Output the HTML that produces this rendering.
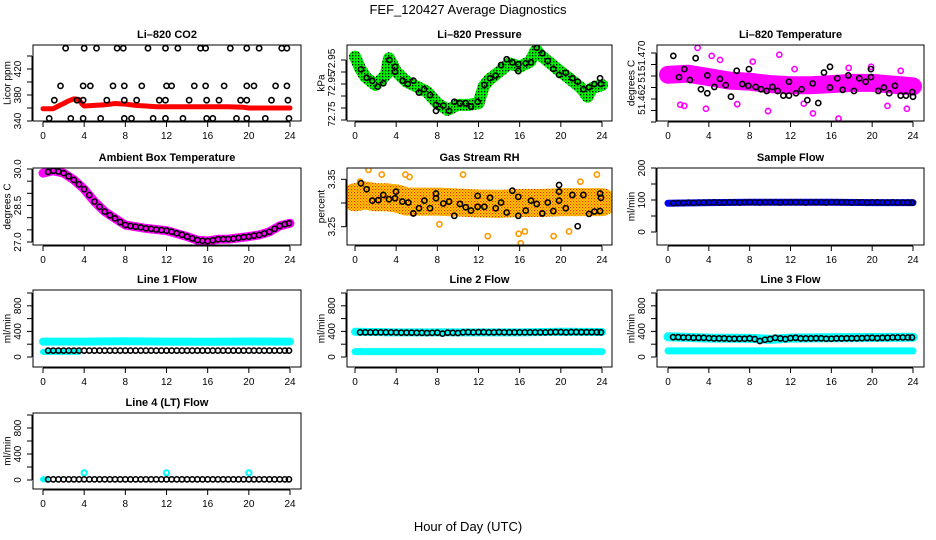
<!DOCTYPE html>
<html><head><meta charset="utf-8"><style>
html,body{margin:0;padding:0;background:#fff;}
svg{display:block;font-family:"Liberation Sans",Arial,sans-serif;}
</style></head><body>
<svg id="fig" width="936" height="540" viewBox="0 0 936 540" xmlns="http://www.w3.org/2000/svg">
<defs>
<pattern id="greenDots" width="3" height="3" patternUnits="userSpaceOnUse"><rect width="3" height="3" fill="#00ee00"/><rect x="1" y="1" width="1.3" height="1.3" fill="#000"/></pattern>
<pattern id="rhDots" width="3" height="3" patternUnits="userSpaceOnUse"><rect width="3" height="3" fill="#ffd400"/><rect x="0" y="0" width="1.2" height="1.2" fill="#ff2000"/><rect x="1.5" y="1.5" width="1.2" height="1.2" fill="#ff5000"/></pattern>
</defs>
<text x="468" y="14" text-anchor="middle" font-size="13">FEF_120427  Average Diagnostics</text>
<text x="468" y="531" text-anchor="middle" font-size="13">Hour of Day (UTC)</text>
</svg>
<script>
// ---------- data ----------
const xTicks = [0,4,8,12,16,20,24];
const halfHours = [0.5,1,1.5,2,2.5,3,3.5,4,4.5,5,5.5,6,6.5,7,7.5,8,8.5,9,9.5,10,10.5,11,11.5,12,12.5,13,13.5,14,14.5,15,15.5,16,16.5,17,17.5,18,18.5,19,19.5,20,20.5,21,21.5,22,22.5,23,23.5,23.9];

// CO2
const co2RedHours = [0,0.5,1,1.5,2,2.5,3,3.5,3.8,4,5,6,7,8,9,10,11,12,14,16,18,19.5,20,22,24];
const co2RedVals  = [359,359,359,363,367,371,374,373,366,363,364,365,367,366,364,363,362,362,362,362,362,361,360,360,360];
const co2BlackHours = [2.2,4.0,5.2,7.2,7.8,10.2,11.9,13.1,15.3,15.8,18.2,19.8,21.0,23.2,23.7,
  1.7,3.9,4.6,6.8,7.9,9.6,12.0,12.5,14.7,15.8,17.6,19.8,20.5,22.6,23.7,
  1.1,3.3,3.9,6.2,7.9,9.1,11.3,11.9,14.2,15.9,17.1,19.2,19.8,22.2,23.8,
  0.6,2.7,3.9,5.6,7.9,8.6,10.7,11.9,13.6,15.9,16.5,18.8,19.8,21.6,23.9];
const co2BlackVals = [452,452,452,452,452,452,452,452,452,452,452,452,452,452,452,
  394,394,394,394,394,394,394,394,394,394,394,394,394,394,394,
  372,372,372,372,372,372,372,372,372,372,372,372,372,372,372,
  344,344,344,344,344,344,344,344,344,344,344,344,344,344,344];

// Pressure
const presBandHours = [0,0.5,1,2,3,3.3,4,5,6,7,8,9,10,11,12,12.5,13,14,15,16,17,17.6,18,19,20,21,22,22.6,23,24];
const presBandVals  = [72.964,72.915,72.880,72.846,72.888,72.957,72.901,72.860,72.839,72.818,72.770,72.742,72.763,72.763,72.770,72.839,72.867,72.901,72.936,72.922,72.943,72.992,72.971,72.936,72.901,72.867,72.832,72.797,72.832,72.846];
const presBlackHours = [0.58,1.13,1.68,2.2,2.75,3.34,3.89,3.89,4.63,5.12,5.67,6.22,6.71,7.29,7.87,7.87,8.58,9.14,9.65,10.2,10.76,11.27,11.92,12.57,13.12,13.67,14.19,14.74,15.29,15.87,15.87,16.59,17.1,17.66,18.2,18.73,19.27,19.83,20.48,21.12,21.64,22.19,22.74,23.26,23.81,23.9];
const presBlackVals  = [72.911,72.876,72.863,72.839,72.853,72.95,72.922,72.901,72.864,72.850,72.864,72.814,72.828,72.804,72.763,72.738,72.760,72.738,72.776,72.770,72.770,72.756,72.776,72.846,72.874,72.885,72.929,72.953,72.940,72.932,72.904,72.936,72.940,73.001,72.978,72.946,72.913,72.888,72.897,72.874,72.860,72.828,72.836,72.850,72.874,72.850];

// Li-820 temperature
const tempBandHours = [0,2,4,6,8,10,12,14,16,18,20,22,24];
const tempBandVals  = [51.4662,51.4664,51.4658,51.4652,51.4650,51.4646,51.4644,51.4644,51.4646,51.4648,51.4648,51.4645,51.4642];
const tempOutHours = [2.9,4.28,3.72,1.6,6.78,9.8,14.2,16.7,23.4,5.1,12.4,17.7,22.8,10.9,0.4,1.2,8.3,13.3,19.9,21.5];
const tempOutVals  = [51.4709,51.4695,51.4603,51.4608,51.4611,51.4599,51.4595,51.4586,51.4603,51.4688,51.4672,51.4674,51.4669,51.4697,51.4672,51.4610,51.4685,51.4612,51.4676,51.4608];
const tempBlackHours = [0.52,1.08,1.6,2.15,2.71,3.23,3.85,3.85,4.54,5.09,5.65,6.17,6.73,7.28,7.87,7.93,8.59,9.11,9.67,10.22,10.74,11.3,11.85,11.85,12.54,13.09,13.65,14.17,14.72,15.28,15.87,15.87,16.58,17.11,17.66,18.22,18.74,19.36,19.88,19.88,20.6,21.16,21.67,22.23,22.79,23.31,23.93,24.0];
const tempBlackVals  = [51.4695,51.4658,51.4672,51.4653,51.4691,51.4637,51.4661,51.4630,51.4641,51.4655,51.4644,51.4624,51.4669,51.4646,51.4643,51.4672,51.4641,51.4637,51.4634,51.4641,51.4634,51.4626,51.4650,51.4626,51.4630,51.4637,51.4618,51.4647,51.4613,51.4666,51.4676,51.4640,51.4656,51.4636,51.4661,51.4634,51.4656,51.4650,51.4672,51.4658,51.4634,51.4640,51.4630,51.4643,51.4626,51.4626,51.4632,51.4624];

// Ambient box temperature
const ambBandHours = [0,1,2,3,4,5,6,7,8,10,12,14,15,16,17,18,20,21,22,23,24];
const ambBandVals  = [29.83,29.93,29.83,29.55,29.17,28.66,28.25,27.97,27.70,27.56,27.47,27.22,27.08,27.04,27.11,27.12,27.22,27.29,27.42,27.66,27.77];
const ambBlackVals = [29.88,29.93,29.9,29.83,29.7,29.55,29.37,29.17,28.93,28.66,28.45,28.25,28.1,27.97,27.82,27.7,27.66,27.63,27.6,27.56,27.54,27.51,27.49,27.47,27.42,27.36,27.3,27.22,27.15,27.08,27.05,27.04,27.07,27.11,27.12,27.12,27.14,27.17,27.2,27.22,27.26,27.29,27.35,27.42,27.54,27.66,27.73,27.77];

// Gas stream RH
const rhBandHours = [0,1,2,3,4,5,6,8,10,12,14,16,18,20,22,24];
const rhBandVals  = [3.312,3.316,3.312,3.312,3.310,3.303,3.303,3.303,3.301,3.299,3.298,3.300,3.300,3.302,3.302,3.302];
const rhOutHours = [1.31,4.9,5.3,10.5,12.9,16.1,16.5,19.3,20.8,21.9,23.5,0.5,2.6,15.9,8.2];
const rhOutVals  = [3.37,3.36,3.355,3.36,3.23,3.215,3.24,3.23,3.24,3.345,3.36,3.345,3.36,3.235,3.255];
const rhBlackHours = [0.58,1.13,1.68,2.27,2.75,3.3,3.89,3.98,4.6,5.18,5.67,6.22,6.74,7.29,7.87,7.87,8.58,9.14,9.65,10.2,10.76,11.27,11.92,11.92,12.57,13.12,13.67,14.19,14.74,15.29,15.87,15.87,16.59,17.1,17.66,18.2,18.73,19.27,19.83,19.83,19.83,20.48,21.12,21.64,22.19,22.74,23.26,23.81,23.81,23.9];
const rhBlackVals  = [3.3415,3.329,3.305,3.306,3.317,3.308,3.310,3.324,3.303,3.301,3.278,3.289,3.305,3.289,3.320,3.310,3.299,3.303,3.273,3.298,3.291,3.284,3.315,3.292,3.292,3.311,3.289,3.301,3.280,3.326,3.273,3.313,3.284,3.305,3.298,3.278,3.301,3.283,3.338,3.324,3.305,3.289,3.317,3.251,3.317,3.277,3.282,3.283,3.320,3.311];

// Sample flow
const sampleBandHours = [0,4,8,12,16,20,24];
const sampleBandVals  = [90,92,93,93,93,92,92];
const sampleBlackVals = [90,91,91,92,91,92,92,92,93,92,92,93,93,92,93,93,93,92,93,93,93,92,93,93,93,93,92,93,93,93,92,93,93,93,93,92,93,93,92,93,93,92,92,93,92,92,92,92];

// Line 1 flow
const l1CyanHours = [0,4,8,12,16,20,24];
const l1CyanVals  = [240,240,245,240,238,242,240];
const l1LowHours  = [0,3.5];
const l1LowVals   = [80,80];
const l1BlackVals = [100,100,100,100,100,100,100,100,100,100,100,100,100,100,100,100,100,100,100,100,100,100,100,100,100,100,100,100,100,100,100,100,100,100,100,100,100,100,100,100,100,100,100,100,100,100,100,100];

// Line 2 flow
const l2CyanHighHours = [0,4,8,12,16,20,24];
const l2CyanHighVals  = [395,385,385,385,385,395,390];
const l2CyanLowHours  = [0,4,8,12,16,20,24];
const l2CyanLowVals   = [85,85,85,85,85,85,85];
const l2BlackVals = [385,385,385,385,385,385,385,383,380,380,380,378,378,375,378,380,365,380,378,375,385,388,385,388,388,385,385,388,385,385,385,385,385,385,385,385,385,388,390,390,385,390,390,388,388,388,388,385];

// Line 3 flow
const l3CyanHighHours = [0,4,8,10,12,16,20,24];
const l3CyanHighVals  = [315,295,290,275,295,300,305,310];
const l3CyanLowHours  = [0,4,8,12,16,20,24];
const l3CyanLowVals   = [95,95,95,95,95,95,95];
const l3BlackVals = [310,310,305,305,300,300,300,295,290,290,290,285,285,285,285,290,280,250,270,280,300,290,280,295,300,290,290,290,292,292,285,285,290,290,292,292,292,295,298,300,295,300,300,305,305,305,305,305];

// Line 4 flow
const l4CyanHours = [0,4,12,20,24];
const l4CyanVals  = [10,110,110,110,10];
const l4BlackVals = [10,10,10,10,10,10,10,10,10,10,10,10,10,10,10,10,10,10,10,10,10,10,10,10,10,10,10,10,10,10,10,10,10,10,10,10,10,10,10,10,10,10,10,10,10,10,10,10];

// ---------- drawing ----------
const NS = "http://www.w3.org/2000/svg";
const svg = document.getElementById('fig');
const cols = [{bx0:33,bx1:301,h0:43,h24:290},{bx0:347,bx1:612,h0:355,h24:602},{bx0:657,bx1:924,h0:668,h24:913}];
const rows = [{by0:45,by1:121},{by0:168,by1:245},{by0:290,by1:367},{by0:413,by1:489}];

function mk(tag, attrs, parent){
  const e = document.createElementNS(NS, tag);
  for (const k in attrs) e.setAttribute(k, attrs[k]);
  (parent||svg).appendChild(e);
  return e;
}

function panel(name, col, row, title, ylab, va, ya, vb, yb, ticks, labels){
  const c = cols[col], r = rows[row];
  const g = mk('g', {});
  
  
  const X = h => c.h0 + (c.h24 - c.h0) * h / 24;
  const Y = v => ya + (yb - ya) * (v - va) / (vb - va);
  const clipId = 'clip-' + name;
  const cp = mk('clipPath', {id: clipId}, g);
  mk('rect', {x:c.bx0, y:r.by0, width:c.bx1-c.bx0, height:r.by1-r.by0}, cp);
  const plot = mk('g', {'clip-path':'url(#'+clipId+')'}, g);
  
  
  const box = mk('rect', {x:c.bx0, y:r.by0, width:c.bx1-c.bx0, height:r.by1-r.by0, fill:'none', stroke:'#000', 'stroke-width':1}, g);
  
  
  const t = mk('text', {x:(c.bx0+c.bx1)/2, y:r.by0-7, 'text-anchor':'middle', 'font-size':11, 'font-weight':'bold'}, g);
  t.textContent = title;
  
  
  const yl = mk('text', {x:c.bx0-25, y:(r.by0+r.by1)/2, 'text-anchor':'middle', 'dominant-baseline':'central', 'font-size':10, transform:'rotate(-90 '+(c.bx0-25)+' '+((r.by0+r.by1)/2)+')'}, g);
  yl.textContent = ylab;
  
  
  const xa = mk('g', {}, g);
  
  
  mk('line', {x1:X(0), x2:X(24), y1:r.by1+1, y2:r.by1+1, stroke:'#000'}, xa);
  xTicks.forEach(h => {
    mk('line', {x1:X(h), x2:X(h), y1:r.by1+1, y2:r.by1+6, stroke:'#000'}, xa);
    const tx = mk('text', {x:X(h), y:r.by1+18, 'text-anchor':'middle', 'font-size':10}, xa);
    tx.textContent = String(h);
    
    
  });
  const ya_ = mk('g', {}, g);
  
  
  mk('line', {x1:c.bx0-1, x2:c.bx0-1, y1:Y(ticks[0]), y2:Y(ticks[ticks.length-1]), stroke:'#000'}, ya_);
  ticks.forEach(v => mk('line', {x1:c.bx0-6, x2:c.bx0-1, y1:Y(v), y2:Y(v), stroke:'#000'}, ya_));
  labels.forEach(lb => {
    const lx = c.bx0-12, ly = Y(lb[0]);
    const tx = mk('text', {x:lx, y:ly, 'text-anchor':'middle', 'font-size':10, transform:'rotate(-90 '+lx+' '+ly+')'}, ya_);
    tx.textContent = lb[1];
    
    
  });
  return {X, Y, plot, name};
}

function band(p, hours, vals, color, w, label){
  const pts = hours.map((h,i) => p.X(h).toFixed(1)+','+p.Y(vals[i]).toFixed(1)).join(' ');
  const e = mk('polyline', {points:pts, fill:'none', stroke:color, 'stroke-width':w, 'stroke-linejoin':'round', 'stroke-linecap':'round'}, p.plot);
  
  
}
function points(p, hours, vals, color, label, sw){
  const g = mk('g', {}, p.plot);
  
  
  hours.forEach((h,i) => {
    const e = mk('circle', {cx:p.X(h), cy:p.Y(vals[i]), r:2.6, fill:'none', stroke:color, 'stroke-width':sw||1.6}, g);
    
    
  });
}

let p = panel('co2', 0, 0, 'Li\u2013820 CO2', 'Licor ppm', 340, 121, 440, 56,
  [340,360,380,400,420,440], [[340,'340'],[380,'380'],[420,'420']]);
band(p, co2RedHours, co2RedVals, '#ff0000', 5, 'red-series');
points(p, co2BlackHours, co2BlackVals, '#000', 'black-points');

p = panel('pressure', 1, 0, 'Li\u2013820 Pressure', 'kPa', 72.70, 120, 72.95, 60,
  [72.70,72.75,72.80,72.85,72.90,72.95], [[72.725,'72.75'],[72.85,'72.95'],[72.945,'72.95']]);
band(p, presBandHours, presBandVals, 'url(#greenDots)', 12, 'green-series');
points(p, presBlackHours, presBlackVals, '#000', 'black-points');

p = panel('licor-temp', 2, 0, 'Li\u2013820 Temperature', 'degrees C', 51.458, 122, 51.470, 53,
  [51.458,51.460,51.462,51.464,51.466,51.468,51.470], [[51.4619,'51.462'],[51.4658,'51'],[51.4695,'51.470']]);
band(p, tempBandHours, tempBandVals, '#ff00ff', 18, 'magenta-series');
points(p, tempOutHours, tempOutVals, '#ff00ff', 'magenta-outliers');
points(p, tempBlackHours, tempBlackVals, '#000', 'black-points');

p = panel('ambient-temp', 0, 1, 'Ambient Box Temperature', 'degrees C', 27.0, 242, 30.0, 169,
  [27.0,27.5,28.0,28.5,29.0,29.5,30.0], [[27.0,'27.0'],[28.5,'28.5'],[30.0,'30.0']]);
band(p, ambBandHours, ambBandVals, '#ff00ff', 9, 'magenta-series');
points(p, halfHours, ambBlackVals, '#000', 'black-points');

p = panel('gas-rh', 1, 1, 'Gas Stream RH', 'percent', 3.25, 226.7, 3.35, 179.3,
  [3.25,3.30,3.35], [[3.25,'3.25'],[3.35,'3.35']]);
band(p, rhBandHours, rhBandVals, 'url(#rhDots)', 28, 'orange-series');
points(p, rhOutHours, rhOutVals, '#ff9900', 'orange-outliers');
points(p, rhBlackHours, rhBlackVals, '#000', 'black-points');

p = panel('sample-flow', 2, 1, 'Sample Flow', 'ml/min', 0, 232, 200, 168,
  [0,50,100,150,200], [[0,'0'],[100,'100'],[200,'200']]);
band(p, sampleBandHours, sampleBandVals, '#0000ff', 7, 'blue-series');
points(p, halfHours, sampleBlackVals, '#000022', 'black-points', 1.4);

const flowTicks = [0,200,400,600,800,1000];
const flowLabels = [[0,'0'],[400,'400'],[800,'800']];
p = panel('line1-flow', 0, 2, 'Line 1 Flow', 'ml/min', 0, 357, 1000, 293, flowTicks, flowLabels);
band(p, l1CyanHours, l1CyanVals, '#00ffff', 8, 'cyan-series');
band(p, l1LowHours, l1LowVals, '#00ffff', 6, 'cyan-low-series');
points(p, halfHours, l1BlackVals, '#000', 'black-points');

p = panel('line2-flow', 1, 2, 'Line 2 Flow', 'ml/min', 0, 357, 1000, 293, flowTicks, flowLabels);
band(p, l2CyanHighHours, l2CyanHighVals, '#00ffff', 8, 'cyan-high-series');
band(p, l2CyanLowHours, l2CyanLowVals, '#00ffff', 7, 'cyan-low-series');
points(p, halfHours, l2BlackVals, '#000', 'black-points');

p = panel('line3-flow', 2, 2, 'Line 3 Flow', 'ml/min', 0, 357, 1000, 293, flowTicks, flowLabels);
band(p, l3CyanHighHours, l3CyanHighVals, '#00ffff', 9, 'cyan-high-series');
band(p, l3CyanLowHours, l3CyanLowVals, '#00ffff', 7, 'cyan-low-series');
points(p, halfHours, l3BlackVals, '#000', 'black-points');

p = panel('line4-flow', 0, 3, 'Line 4 (LT) Flow', 'ml/min', 0, 480, 1000, 415, flowTicks, flowLabels);
band(p, [0,0.3], [10,10], '#00ffff', 6, 'cyan-series');
points(p, l4CyanHours.slice(1,4), l4CyanVals.slice(1,4), '#00ffff', 'cyan-spikes', 2);
points(p, halfHours, l4BlackVals, '#000', 'black-points');
</script>
</body></html>
